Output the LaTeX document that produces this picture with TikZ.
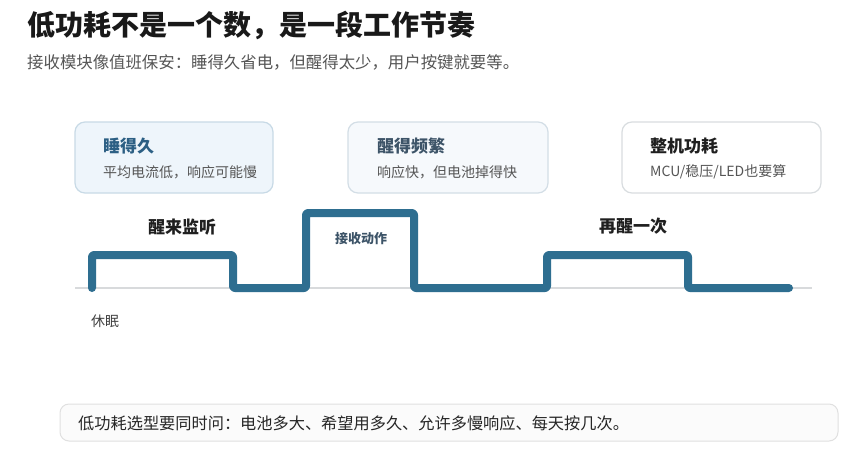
\documentclass[tikz,border=0pt]{standalone}
\usepackage{fontspec}
\setmainfont{Noto Sans CJK SC}
\definecolor{wave}{HTML}{2E6E90}
\definecolor{titleblue}{HTML}{2C5F84}
\definecolor{grayblue}{HTML}{3D5468}
\definecolor{txtgray}{HTML}{555555}
\definecolor{boxAfill}{HTML}{EEF5FB}
\definecolor{boxAline}{HTML}{C8DAE6}
\definecolor{boxBfill}{HTML}{F6F9FC}
\definecolor{boxBline}{HTML}{D3DEE6}
\definecolor{boxCline}{HTML}{D9DDE0}
\definecolor{axisclr}{HTML}{D8DADC}
\tikzset{
  x=1pt,y=-1pt,
  card/.style={draw, line width=1.2pt, rounded corners=10pt},
  cardtitle/.style={anchor=west, inner sep=0pt, font=\fontsize{17}{20}\selectfont\bfseries},
  cardsub/.style={anchor=west, inner sep=0pt, text=txtgray, font=\fontsize{14}{17}\selectfont},
  wavelabel/.style={inner sep=0pt, font=\fontsize{17}{20}\selectfont\bfseries, text=black!88},
}
\begin{document}
\begin{tikzpicture}
\useasboundingbox[fill=white] (0,0) rectangle (860,459);
% title
\node[anchor=west, inner sep=0pt, font=\fontsize{28}{33}\selectfont\bfseries, text=black!90] (title) at (27,25) {低功耗不是一个数，是一段工作节奏};
\node[anchor=west, inner sep=0pt, font=\fontsize{16.4}{19}\selectfont, text=txtgray] (subtitle) at (27,62) {接收模块像值班保安：睡得久省电，但醒得太少，用户按键就要等。};
% cards
\draw[card, fill=boxAfill, draw=boxAline] (75,122) rectangle (273,193);
\node[cardtitle, text=titleblue] (t1) at (103,146) {睡得久};
\node[cardsub] (s1) at (103,172) {平均电流低，响应可能慢};
\draw[card, fill=boxBfill, draw=boxBline] (348,122) rectangle (548,193);
\node[cardtitle, text=grayblue] (t2) at (377,146) {醒得频繁};
\node[cardsub] (s2) at (377,172) {响应快，但电池掉得快};
\draw[card, fill=white, draw=boxCline] (622,122) rectangle (821,193);
\node[cardtitle, text=black!88] (t3) at (650,146) {整机功耗};
\node[cardsub] (s3) at (650,172) {MCU/稳压/LED也要算};
% axis line
\coordinate (b0) at (75,288);
\coordinate (b1) at (812,288);
\draw[draw=axisclr, line width=2.5pt] (b0) -- (b1);
% waveform
\coordinate (w0) at (92,288);
\coordinate (w9) at (789,288);
\draw[wave, line width=8pt, line cap=round, line join=round, rounded corners=2pt]
  (w0) -- (92,255) -- (233,255) -- (233,288) -- (306,288) -- (306,213) -- (414,213)
  -- (414,288) -- (547,288) -- (547,255) -- (688,255) -- (688,288) -- (w9);
% labels
\node[wavelabel] (l1) at (182,227) {醒来监听};
\node[inner sep=0pt, font=\fontsize{13}{16}\selectfont\bfseries, text=grayblue] (l2) at (361,239) {接收动作};
\node[wavelabel] (l3) at (633,226) {再醒一次};
\node[anchor=west, inner sep=0pt, font=\fontsize{14}{17}\selectfont, text=black!75] (l4) at (91,321) {休眠};
% bottom note
\draw[fill=black!1.5, draw=black!12, line width=1pt, rounded corners=9pt] (60,404) rectangle (838,441);
\node[anchor=west, inner sep=0pt, font=\fontsize{16.2}{19}\selectfont, text=black!85] (note) at (78,423) {低功耗选型要同时问：电池多大、希望用多久、允许多慢响应、每天按几次。};
\end{tikzpicture}
\end{document}
